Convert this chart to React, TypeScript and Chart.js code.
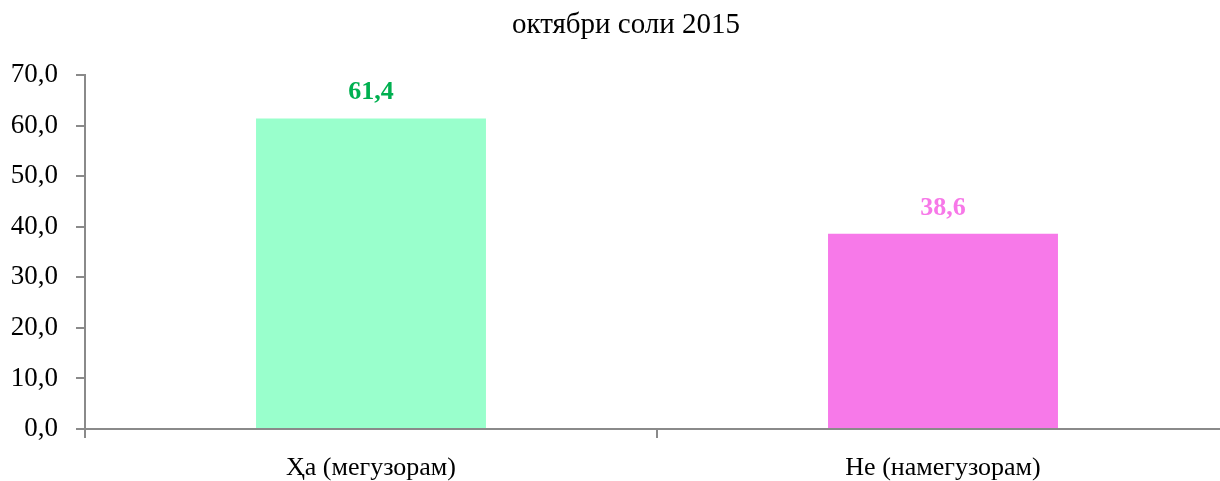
import React, { useEffect, useRef } from "react";
import { Chart, registerables } from "chart.js";

Chart.register(...registerables);

const titleText = "октябри соли 2015";
const categories = ["Ҳа (мегузорам)", "Не (намегузорам)"];
const values = [61.4, 38.6];
const barColors = ["#99FFCC", "#F779E9"];
const labelColors = ["#00B050", "#F778E8"];
const yMin = 0;
const yMax = 70;
const yStep = 10;

const FONT = "'Liberation Serif', 'DejaVu Serif', serif";
const AXIS_COLOR = "#8a8a8a";

const valueLabelPlugin = {
  id: "valueLabels",
  afterDatasetsDraw(chart: any) {
    const ctx = chart.ctx;
    const meta = chart.getDatasetMeta(0);
    ctx.save();
    ctx.font = `bold 26px ${FONT}`;
    ctx.textAlign = "center";
    ctx.textBaseline = "alphabetic";
    meta.data.forEach((bar: any, i: number) => {
      ctx.fillStyle = labelColors[i];
      const txt = values[i].toFixed(1).replace(".", ",");
      ctx.fillText(txt, bar.x, bar.y - 19);
    });
    ctx.restore();
  },
};

const titlePlugin = {
  id: "manualTitle",
  afterDraw(chart: any) {
    const ctx = chart.ctx;
    ctx.save();
    ctx.font = `29px ${FONT}`;
    ctx.fillStyle = "#000";
    ctx.textAlign = "center";
    ctx.textBaseline = "alphabetic";
    ctx.fillText(titleText, 626, 33);
    ctx.restore();
  },
};

export default function App() {
  const ref = useRef<HTMLCanvasElement | null>(null);
  useEffect(() => {
    document.body.style.margin = "0";
    const canvas = ref.current;
    if (!canvas) return;
    const chart = new Chart(canvas, {
      type: "bar",
      data: {
        labels: categories,
        datasets: [
          {
            data: values,
            backgroundColor: barColors,
            borderWidth: 0,
            barPercentage: 0.402,
            categoryPercentage: 1,
          },
        ],
      },
      options: {
        responsive: false,
        animation: false,
        devicePixelRatio: 1,
        layout: { padding: { left: 0, right: 1, top: 75, bottom: 0 } },
        plugins: {
          legend: { display: false },
          tooltip: { enabled: false },
          title: { display: false },
        },
        scales: {
          x: {
            grid: {
              display: true,
              offset: true,
              drawOnChartArea: false,
              drawTicks: true,
              tickLength: 9,
              color: AXIS_COLOR,
              lineWidth: 2,
            },
            border: { display: true, color: AXIS_COLOR, width: 2 },
            ticks: {
              color: "#000",
              font: { family: FONT, size: 26 },
              padding: 15,
              maxRotation: 0,
            },
            afterFit(scale: any) {
              scale.height = 52;
            },
          },
          y: {
            min: yMin,
            max: yMax,
            grid: {
              display: true,
              drawOnChartArea: false,
              drawTicks: true,
              tickLength: 9,
              color: AXIS_COLOR,
              lineWidth: 2,
            },
            border: { display: true, color: AXIS_COLOR, width: 2 },
            ticks: {
              stepSize: yStep,
              color: "#000",
              font: { family: FONT, size: 27 },
              padding: 18,
              callback: (v: any) => Number(v).toFixed(1).replace(".", ","),
            },
            afterFit(scale: any) {
              scale.width = 85;
            },
          },
        },
      },
      plugins: [valueLabelPlugin, titlePlugin],
    });
    return () => chart.destroy();
  }, []);
  return (
    <div style={{ width: 1220, height: 481, overflow: "hidden", position: "relative", background: "#fff" }}>
      <canvas ref={ref} width={1230} height={481} style={{ display: "block" }} />
    </div>
  );
}
